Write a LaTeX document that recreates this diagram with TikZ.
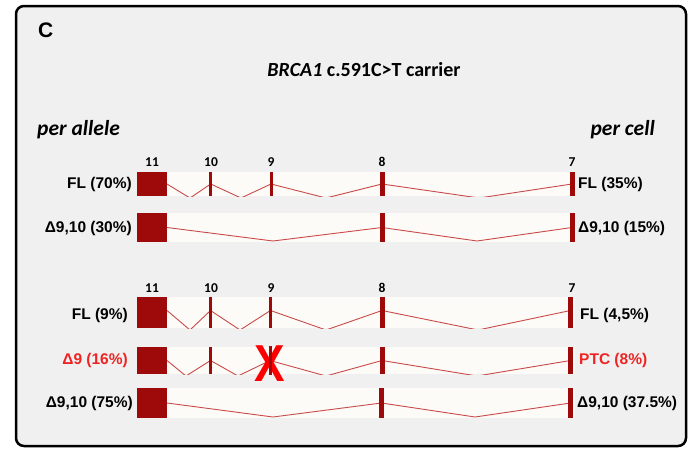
\documentclass[tikz,border=0pt]{standalone}
\usepackage{fontspec}
\setmainfont{Liberation Sans}
\newfontfamily\calib{Carlito}
\newfontfamily\arial{Liberation Sans}
\definecolor{exred}{HTML}{9E0A0A}
\definecolor{intred}{HTML}{C84A4A}
\definecolor{bandc}{HTML}{FDFBF7}
\definecolor{bgc}{HTML}{F0F0F0}
\definecolor{txtred}{HTML}{EE2424}
\begin{document}
\begin{tikzpicture}[x=1pt,y=-1pt,
  exon/.style={fill=exred,draw=none,inner sep=0,outer sep=0,minimum height=#1},
  intron/.style={draw=intred,line width=0.9pt},
  band/.style={fill=bandc,draw=none},
  lab/.style={font=\arial\bfseries\fontsize{15.5}{18}\selectfont,inner sep=0},
  num/.style={font=\calib\bfseries\fontsize{13.5}{15}\selectfont,inner sep=0},
  hdr/.style={font=\calib\bfseries\itshape\fontsize{21.5}{24}\selectfont,inner sep=0}]
\useasboundingbox (0,0) rectangle (689,450);
\fill[white] (0,0) rectangle (689,450);
\draw[line width=2.5pt,rounded corners=8pt,fill=bgc] (16,6) rectangle (686,446);
\node[font=\arial\bfseries\fontsize{21}{24}\selectfont,inner sep=0,anchor=west] (lc) at (38,30.5) {C};
\node[font=\calib\bfseries\fontsize{20}{23}\selectfont,inner sep=0] (title) at (364,70) {\textit{BRCA1} c.591C>T carrier};
\node[hdr,anchor=west] (pa) at (37,130) {per allele};
\node[hdr,anchor=east] (pc) at (655,130) {per cell};

% ---------- group 1 numbers
\foreach \n/\x in {11/152,10/211,9/271,8/382,7/572}
  \node[num] (g1n\n) at (\x,162) {\n};

% ---------- row 1 : FL (70%)
\fill[band] (137,172) rectangle (575,196);
\begin{scope}
\clip (137,172) rectangle (575,196);
\node[exon=24,minimum width=30] (a11) at (152,184) {};
\node[exon=24,minimum width=3] (a10) at (210.7,184) {};
\node[exon=24,minimum width=3] (a9) at (271,184) {};
\node[exon=24,minimum width=5] (a8) at (382,184) {};
\node[exon=24,minimum width=5] (a7) at (572,184) {};
\coordinate (a1) at (190,198);
\coordinate (a2) at (241,198);
\coordinate (a3) at (326,198);
\coordinate (a4) at (479,198);
\draw[intron] (a11.east) -- (a1) -- (a10.center) -- (a2) -- (a9.center) -- (a3) -- (a8.center) -- (a4) -- (a7.center);
\end{scope}
\foreach \e in {a11,a10,a9,a8,a7} \fill[exred] (\e.north west) rectangle (\e.south east);
\node[lab,anchor=east] (l1) at (132,184) {FL (70\%)};
\node[lab,anchor=west] (r1) at (578,184) {FL (35\%)};

% ---------- row 2 : D9,10 (30%)
\fill[band] (137,213) rectangle (575,242);
\node[exon=29,minimum width=30] (b11) at (152,227.5) {};
\node[exon=29,minimum width=5] (b8) at (382,227.5) {};
\node[exon=29,minimum width=5] (b7) at (572,227.5) {};
\coordinate (b1) at (273,241);
\coordinate (b2) at (477,241);
\draw[intron] (b11.east) -- (b1) -- (b8.center) -- (b2) -- (b7.center);
\foreach \e in {b11,b8,b7} \fill[exred] (\e.north west) rectangle (\e.south east);
\node[lab,anchor=east] (l2) at (132,228) {Δ9,10 (30\%)};
\node[lab,anchor=west] (r2) at (578,228) {Δ9,10 (15\%)};

% ---------- group 2 numbers
\foreach \n/\x in {11/152,10/211,9/271,8/382,7/572}
  \node[num] (g2n\n) at (\x,288) {\n};

% ---------- row 3 : FL (9%)
\fill[band] (137,297) rectangle (575,328);
\begin{scope}
\clip (137,297) rectangle (575,328);
\node[exon=31,minimum width=30] (c11) at (152,312.5) {};
\node[exon=31,minimum width=3] (c10) at (210.5,312.5) {};
\node[exon=31,minimum width=3] (c9) at (270.5,312.5) {};
\node[exon=31,minimum width=5] (c8) at (382,312.5) {};
\node[exon=31,minimum width=5] (c7) at (570.5,312.5) {};
\coordinate (c1) at (190,330);
\coordinate (c2) at (240,330);
\coordinate (c3) at (326,330);
\coordinate (c4) at (478,330);
\draw[intron] ([yshift=2]c11.east) -- (c1) -- ([yshift=2]c10.center) -- (c2) -- ([yshift=2]c9.center) -- (c3) -- ([yshift=2]c8.center) -- (c4) -- ([yshift=2]c7.center);
\end{scope}
\foreach \e in {c11,c10,c9,c8,c7} \fill[exred] (\e.north west) rectangle (\e.south east);
\node[lab,anchor=east] (l3) at (128,315) {FL (9\%)};
\node[lab,anchor=west] (r3) at (580,315) {FL (4,5\%)};

% ---------- row 4 : D9 (16%)
\fill[band] (137,347) rectangle (575,374);
\begin{scope}
\clip (137,347) rectangle (575,374);
\node[exon=27,minimum width=30] (d11) at (152,360.5) {};
\node[exon=27,minimum width=3] (d10) at (210.5,360.5) {};
\node[exon=27,minimum width=3] (d9) at (270,360.5) {};
\node[exon=27,minimum width=5] (d8) at (382,360.5) {};
\node[exon=27,minimum width=5] (d7) at (570.5,360.5) {};
\coordinate (d1) at (186,376);
\coordinate (d2) at (238,376);
\coordinate (d3) at (326,376);
\coordinate (d4) at (477,376);
\draw[intron] (d11.east) -- (d1) -- (d10.center) -- (d2) -- (d9.center) -- (d3) -- (d8.center) -- (d4) -- (d7.center);
\end{scope}
\foreach \e in {d11,d10,d8,d7} \fill[exred] (\e.north west) rectangle (\e.south east);
\node[font=\arial\bfseries\fontsize{52}{54}\selectfont,text=red,inner sep=0,xscale=0.88] (xx) at (270,364) {X};
\fill[exred] ([yshift=1]d9.north west) rectangle ([yshift=-1]d9.south east);
\node[lab,anchor=east,text=txtred] (l4) at (128,360) {Δ9 (16\%)};
\node[lab,anchor=west,text=txtred] (r4) at (579,360) {PTC (8\%)};

% ---------- row 5 : D9,10 (75%)
\fill[band] (137,388) rectangle (575,418);
\node[exon=30,minimum width=30] (e11) at (152,403) {};
\node[exon=30,minimum width=5] (e8) at (381.5,403) {};
\node[exon=30,minimum width=5] (e7) at (570.5,403) {};
\coordinate (e1) at (273,417);
\coordinate (e2) at (475,417);
\draw[intron] (e11.east) -- (e1) -- (e8.center) -- (e2) -- (e7.center);
\foreach \e in {e11,e8,e7} \fill[exred] (\e.north west) rectangle (\e.south east);
\node[lab,anchor=east] (l5) at (133,403) {Δ9,10 (75\%)};
\node[lab,anchor=west] (r5) at (577,403) {Δ9,10 (37.5\%)};
\end{tikzpicture}
\end{document}
